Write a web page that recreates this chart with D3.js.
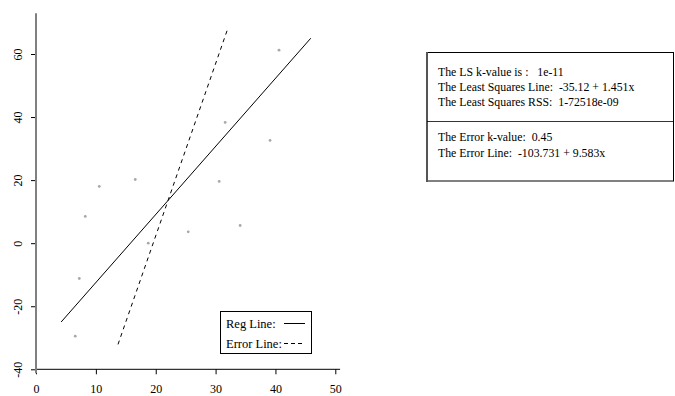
<!DOCTYPE html>
<html><head><meta charset="utf-8">
<script src="https://cdn.jsdelivr.net/npm/d3@7"></script>
<style>
html,body{margin:0;padding:0;background:#fff;}
svg{display:block;font-family:"Liberation Serif","Times New Roman",serif;}
svg text{white-space:pre;}
</style></head>
<body>
<svg id="c" width="675" height="396"></svg>
<script>
// Data
const pointsX = [6.56, 7.23, 8.23, 10.57, 16.58, 18.75, 25.43, 30.6, 31.6, 34.1, 39.1, 40.6, 39.2];
const pointsY = [-29.5, -11.2, 8.5, 18.0, 20.2, 0.0, 3.6, 19.6, 38.3, 5.6, 32.6, 61.2, -23.2];
const regLineX = [4.2, 45.9];
const regLineY = [-25, 65];
const errLineX = [13.7, 32.1];
const errLineY = [-32.1, 68.4];
const xTicks = [0, 10, 20, 30, 40, 50];
const yTicks = [-40, -20, 0, 20, 40, 60];
const legendLabels = ["Reg Line:", "Error Line:"];
const infoLines1 = ["The LS k-value is :   1e-11", "The Least Squares Line:  -35.12 + 1.451x", "The Least Squares RSS:  1-72518e-09"];
const infoLines2 = ["The Error k-value:  0.45", "The Error Line:  -103.731 + 9.583x"];

const svg = d3.select("#c");
const x = d3.scaleLinear().domain([0, 50]).range([36, 335.3]);
const y = d3.scaleLinear().domain([-40, 60]).range([369.3, 54]);

// axes
const xAxis = svg.append("g").attr("transform", `translate(0,${y(-40)})`)
  .call(d3.axisBottom(x).tickValues(xTicks).tickSize(5).tickPadding(10));
xAxis.select(".domain").remove();
xAxis.selectAll("line").attr("stroke", "#000");
xAxis.selectAll("text").attr("font-size", 12).attr("font-family", "Liberation Serif").attr("fill", "#000");
svg.append("line").attr("x1", x(0)).attr("x2", x(50.8)).attr("y1", y(-40)).attr("y2", y(-40)).attr("stroke", "#000");

const yAxis = svg.append("g").attr("transform", `translate(${x(0)},0)`)
  .call(d3.axisLeft(y).tickValues(yTicks).tickSize(5).tickPadding(0).tickFormat(d3.format("d")));
yAxis.select(".domain").remove();
yAxis.selectAll("line").attr("stroke", "#000");
yAxis.selectAll("text").remove();
yAxis.selectAll(".tick").append("text")
  .attr("transform", "translate(-18,0) rotate(-90)")
  .attr("text-anchor", "middle").attr("dy", "0.35em")
  .attr("font-size", 12).attr("font-family", "Liberation Serif").attr("fill", "#000")
  .text(d => d);
svg.append("line").attr("x1", x(0)).attr("x2", x(0)).attr("y1", y(72.9)).attr("y2", y(-40) + 4)
  .attr("stroke", "#808080").attr("stroke-width", 2);

// points
svg.append("g").selectAll("circle").data(pointsX.map((d, i) => [d, pointsY[i]]))
  .join("circle").attr("cx", d => x(d[0])).attr("cy", d => y(d[1])).attr("r", 1.4)
  .attr("fill", "#a8a8a8");

// lines
const lineGen = d3.line().x(d => x(d[0])).y(d => y(d[1]));
svg.append("path").datum(regLineX.map((d, i) => [d, regLineY[i]])).attr("d", lineGen)
  .attr("stroke", "#000").attr("fill", "none").attr("stroke-width", 1);
svg.append("path").datum(errLineX.map((d, i) => [d, errLineY[i]])).attr("d", lineGen)
  .attr("stroke", "#000").attr("fill", "none").attr("stroke-width", 1).attr("stroke-dasharray", "4,4");

// legend
const lg = svg.append("g");
lg.append("rect").attr("x", 220.5).attr("y", 311.5).attr("width", 91).attr("height", 42)
  .attr("fill", "#fff").attr("stroke", "#000");
legendLabels.forEach((t, i) => {
  const yy = 323.5 + i * 20;
  lg.append("text").attr("x", 226).attr("y", yy).attr("dy", "0.35em").attr("font-size", 12.5).text(t);
  lg.append("line").attr("x1", 284).attr("x2", 305).attr("y1", yy).attr("y2", yy)
    .attr("stroke", "#000").attr("stroke-dasharray", i ? "4,3" : null);
});

// info box
const ib = svg.append("g");
ib.append("rect").attr("x", 427.5).attr("y", 52.5).attr("width", 246).attr("height", 128.5)
  .attr("fill", "none").attr("stroke", "#000");
ib.append("line").attr("x1", 427).attr("x2", 427).attr("y1", 52).attr("y2", 182).attr("stroke", "#555").attr("stroke-width", 2);
infoLines1.forEach((t, i) => {
  ib.append("text").attr("x", 438).attr("y", 71.7 + i * 15.3).attr("dy", "0.35em").attr("font-size", 11.8).text(t);
});
ib.append("line").attr("x1", 427).attr("x2", 673).attr("y1", 121.5).attr("y2", 121.5).attr("stroke", "#000").attr("stroke-width", 0.8);
infoLines2.forEach((t, i) => {
  ib.append("text").attr("x", 438).attr("y", 136.7 + i * 16).attr("dy", "0.35em").attr("font-size", 11.8).text(t);
});
</script>
</body></html>
